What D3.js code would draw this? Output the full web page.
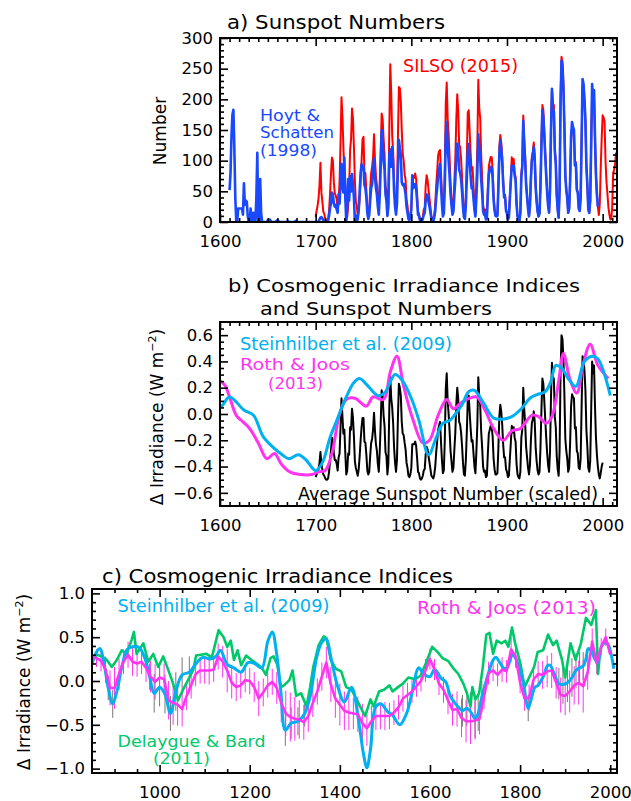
<!DOCTYPE html>
<html>
<head>
<meta charset="utf-8">
<script src="https://cdn.jsdelivr.net/npm/d3@7"></script>
<style>
  body { margin: 0; background: #fff; }
</style>
</head>
<body>
<div id="chart"></div>
<script>
// ---- DATA ----
// a) SILSO (2015) yearly sunspot number, 1700..2014
const silsoStart = 1700;
const silso = [
  8.3, 18.3, 26.7, 38.3, 60.0, 96.7, 48.3, 33.3, 16.7, 13.3,
  5.0, 0.0, 0.0, 3.3, 18.3, 45.0, 78.3, 105.0, 100.0, 65.0,
  46.7, 43.3, 36.7, 18.3, 35.0, 66.7, 130.0, 203.3, 171.7, 121.7,
  78.3, 58.3, 18.3, 8.3, 26.7, 56.7, 116.7, 135.0, 185.0, 168.3,
  121.7, 66.7, 33.3, 26.7, 8.3, 18.3, 36.7, 66.7, 100.0, 134.8,
  139.0, 79.5, 79.7, 51.2, 20.3, 16.0, 17.0, 54.0, 79.3, 90.0,
  104.8, 143.2, 102.0, 75.2, 60.7, 34.8, 19.0, 63.0, 116.3, 176.8,
  168.0, 136.0, 110.8, 58.0, 51.0, 11.7, 33.0, 154.2, 257.3, 209.8,
  141.3, 113.5, 64.2, 38.0, 17.0, 40.2, 138.2, 220.0, 218.2, 196.8,
  149.8, 111.0, 100.0, 78.2, 68.3, 35.5, 26.7, 10.7, 6.8, 11.3,
  24.2, 56.7, 75.0, 71.8, 79.2, 70.3, 46.8, 16.8, 13.5, 4.2,
  0.0, 2.3, 8.3, 20.3, 23.2, 59.0, 76.3, 68.3, 52.9, 38.5,
  24.2, 9.2, 6.3, 2.2, 11.4, 28.2, 59.9, 83.0, 108.5, 115.2,
  117.4, 80.8, 44.3, 13.4, 19.5, 85.8, 192.7, 227.3, 168.7, 143.0,
  105.5, 63.3, 40.3, 18.1, 25.1, 65.8, 102.7, 166.3, 208.3, 182.5,
  126.3, 122.0, 102.7, 74.1, 39.0, 12.7, 8.2, 43.4, 104.4, 178.3,
  182.2, 146.6, 112.1, 83.5, 89.2, 57.8, 30.7, 13.9, 62.8, 123.6,
  232.0, 185.3, 169.2, 110.1, 74.5, 28.3, 18.9, 20.7, 5.7, 10.0,
  53.7, 90.5, 99.0, 106.1, 105.8, 86.3, 42.4, 21.8, 11.2, 10.4,
  11.8, 59.5, 121.7, 142.0, 130.0, 106.6, 69.4, 43.8, 44.4, 20.2,
  15.7, 4.6, 8.5, 40.8, 70.1, 105.5, 90.1, 102.8, 80.9, 73.2,
  30.9, 9.5, 6.0, 2.4, 16.1, 79.0, 95.0, 173.6, 134.6, 105.7,
  62.7, 43.5, 23.7, 9.7, 27.9, 74.0, 106.5, 114.7, 129.7, 108.2,
  59.4, 35.1, 18.6, 9.2, 14.6, 60.2, 132.8, 190.6, 182.6, 148.0,
  113.0, 79.2, 50.8, 27.1, 16.1, 55.3, 154.3, 214.7, 193.0, 190.7,
  118.9, 98.3, 45.0, 20.1, 6.6, 54.2, 200.7, 269.3, 261.7, 225.1,
  159.0, 76.4, 53.4, 39.9, 15.0, 22.0, 66.8, 132.9, 150.0, 149.4,
  148.0, 94.4, 97.6, 54.1, 49.2, 22.5, 18.4, 39.3, 131.0, 220.1,
  218.9, 198.9, 162.4, 91.0, 60.5, 20.6, 14.8, 33.9, 123.0, 211.1,
  191.8, 203.3, 133.0, 76.1, 44.9, 25.1, 11.6, 28.9, 88.3, 136.3,
  173.9, 170.4, 163.6, 99.3, 65.3, 45.8, 24.7, 12.6, 4.2, 4.8,
  24.9, 80.8, 84.5, 94.0, 113.3
];

// a) Hoyt & Schatten (1998), 1610..1995
const hoytStart = 1610;
const hoyt = [
  52, 80, 140, 175, 183, 120, 40, 0, 0, 22,
  22, 22, 22, 22, 12, 63, 28, 35, 33, 10,
  0, 0, 22, 5, 0, 15, 0, 0, 40, 113,
  0, 0, 70, 15, 0, 0, 0, 0, 0, 0,
  3, 0, 4, 2, 0, 0, 0, 0, 0, 2,
  3, 2, 0, 0, 0, 0, 0, 0, 0, 0,
  0, 2, 0, 0, 0, 0, 0, 0, 0, 2,
  0, 0, 0, 0, 0, 0, 0, 0, 0, 0,
  0, 0, 0, 0, 0, 0, 0, 0, 0, 0,
  0, 0, 0, 1, 4, 7, 8, 6, 3, 2,
  0, 0, 0, 2, 10, 22, 30, 48, 45, 30,
  25, 28, 20, 15, 45, 30, 65, 95, 58, 48,
  105, 40, 0, 25, 70, 35, 75, 50, 78, 60,
  40, 0, 10, 0, 5, 20, 50, 80, 94, 90,
  90, 60, 55, 40, 15, 5, 12, 35, 55, 62,
  80, 104, 75, 55, 45, 25, 12, 45, 90, 150,
  140, 100, 85, 45, 35, 10, 25, 110, 118, 90,
  122, 95, 50, 25, 12, 30, 90, 134, 120, 110,
  65, 60, 62, 55, 45, 25, 15, 5, 3, 8,
  20, 76, 55, 58, 62, 55, 35, 12, 10, 3,
  0, 1, 5, 12, 15, 35, 45, 42, 33, 25,
  15, 6, 4, 1, 8, 18, 40, 55, 75, 85,
  95, 60, 30, 9, 14, 60, 140, 163, 120, 100,
  75, 45, 28, 12, 17, 45, 70, 110, 128, 115,
  85, 80, 70, 50, 25, 8, 5, 28, 70, 115,
  127, 100, 75, 55, 58, 38, 20, 9, 40, 80,
  143, 120, 105, 70, 48, 18, 12, 13, 4, 6,
  45, 78, 85, 90, 88, 72, 36, 19, 10, 9,
  10, 55, 110, 133, 120, 98, 63, 40, 40, 18,
  14, 4, 8, 38, 66, 92, 85, 92, 76, 68,
  29, 9, 6, 2, 15, 74, 90, 165, 128, 100,
  60, 41, 22, 9, 26, 70, 100, 108, 122, 102,
  56, 33, 17, 9, 14, 57, 125, 182, 172, 140,
  107, 75, 48, 26, 15, 52, 148, 217, 185, 180,
  115, 95, 44, 20, 7, 52, 195, 263, 255, 218,
  155, 75, 52, 38, 15, 22, 68, 140, 163, 155,
  150, 92, 95, 52, 48, 22, 18, 40, 135, 233,
  225, 200, 165, 92, 60, 21, 15, 35, 128, 225,
  200, 215, 138, 78, 45, 25
];

// b) Average sunspot number (scaled, W m-2), 1700..2000
const avgStart = 1700;
const avgScaled = [
  -0.48, -0.46, -0.44, -0.42, -0.37, -0.29, -0.38, -0.42, -0.46, -0.47,
  -0.49, -0.50, -0.50, -0.49, -0.44, -0.36, -0.28, -0.18, -0.20, -0.30,
  -0.35, -0.35, -0.38, -0.43, -0.33, -0.30, -0.10, 0.12, -0.02, -0.15,
  -0.12, -0.30, -0.46, -0.43, -0.30, -0.31, -0.10, -0.12, 0.04, -0.03,
  -0.17, -0.36, -0.41, -0.44, -0.47, -0.42, -0.32, -0.20, -0.10, -0.03,
  -0.03, -0.21, -0.22, -0.31, -0.43, -0.46, -0.44, -0.32, -0.22, -0.19,
  -0.12, 0.01, -0.13, -0.23, -0.28, -0.38, -0.44, -0.28, -0.07, 0.18,
  0.14, -0.01, -0.09, -0.29, -0.32, -0.46, -0.38, 0.05, 0.28, 0.12,
  0.05, -0.07, -0.26, -0.37, -0.44, -0.35, -0.03, 0.23, 0.20, 0.14,
  -0.06, -0.15, -0.16, -0.22, -0.27, -0.37, -0.41, -0.47, -0.48, -0.46,
  -0.41, -0.23, -0.23, -0.23, -0.21, -0.24, -0.33, -0.44, -0.45, -0.49,
  -0.50, -0.49, -0.47, -0.43, -0.42, -0.31, -0.25, -0.27, -0.32, -0.37,
  -0.42, -0.47, -0.48, -0.49, -0.46, -0.40, -0.29, -0.21, -0.12, -0.09,
  -0.06, -0.21, -0.35, -0.45, -0.43, -0.20, 0.19, 0.31, 0.10, 0.00,
  -0.13, -0.28, -0.36, -0.44, -0.41, -0.27, -0.14, 0.07, 0.20, 0.12,
  -0.06, -0.08, -0.14, -0.24, -0.37, -0.46, -0.47, -0.35, -0.14, 0.11,
  0.14, 0.01, -0.11, -0.21, -0.20, -0.30, -0.40, -0.45, -0.29, -0.08,
  0.28, 0.13, 0.07, -0.13, -0.25, -0.40, -0.44, -0.43, -0.48, -0.47,
  -0.30, -0.15, -0.12, -0.09, -0.10, -0.17, -0.34, -0.42, -0.46, -0.46,
  -0.45, -0.26, -0.02, 0.07, 0.02, -0.08, -0.23, -0.33, -0.33, -0.42,
  -0.44, -0.48, -0.47, -0.34, -0.22, -0.09, -0.14, -0.10, -0.18, -0.21,
  -0.38, -0.46, -0.48, -0.49, -0.44, -0.18, -0.12, 0.20, 0.04, -0.07,
  -0.25, -0.33, -0.41, -0.46, -0.39, -0.20, -0.07, -0.04, 0.02, -0.06,
  -0.26, -0.36, -0.43, -0.46, -0.44, -0.26, 0.03, 0.27, 0.23, 0.10,
  -0.04, -0.18, -0.30, -0.39, -0.44, -0.28, 0.13, 0.39, 0.28, 0.27,
  -0.02, -0.10, -0.32, -0.42, -0.47, -0.28, 0.32, 0.60, 0.57, 0.42,
  0.15, -0.19, -0.28, -0.34, -0.44, -0.41, -0.22, 0.06, 0.15, 0.13,
  0.12, -0.11, -0.10, -0.28, -0.30, -0.41, -0.42, -0.34, 0.05, 0.44,
  0.42, 0.33, 0.18, -0.12, -0.25, -0.41, -0.44, -0.36, 0.02, 0.40,
  0.31, 0.37, 0.06, -0.18, -0.31, -0.40, -0.46, -0.49, -0.45, -0.40,
  -0.37
];

// Steinhilber et al. (2009), W m-2, with uncertainty (half range, 0 = not drawn)
const steinYears = [
  850, 860, 868, 875, 886, 896, 906, 917, 928, 940,
  955, 968, 978, 988, 1000, 1012, 1024, 1036, 1050, 1066,
  1081, 1096, 1112, 1125, 1135, 1150, 1165, 1181, 1196, 1211,
  1227, 1240, 1250, 1260, 1269, 1279, 1292, 1307, 1322, 1334,
  1349, 1360, 1370, 1380, 1395, 1410, 1426, 1441, 1452, 1460,
  1468, 1479, 1491, 1506, 1517, 1533, 1548, 1560, 1575, 1586,
  1600, 1610, 1625, 1635, 1645, 1655, 1665, 1672, 1682, 1690,
  1700, 1707, 1715, 1722, 1732, 1740, 1746, 1755, 1765, 1772,
  1783, 1790, 1800, 1808, 1818, 1826, 1833, 1840, 1846, 1853,
  1860, 1866, 1875, 1886, 1895, 1905, 1915, 1924, 1932, 1940,
  1946, 1951, 1957, 1965, 1972, 1981, 1989, 1995, 2008
];
const steinIrr = [
  0.19, 0.33, 0.37, 0.25, -0.08, -0.26, -0.10, 0.18, 0.36, 0.39,
  0.38, 0.25, 0.05, -0.14, -0.07, -0.15, -0.37, -0.12, 0.07, 0.10,
  0.20, 0.27, 0.25, 0.28, 0.35, 0.19, 0.15, 0.10, 0.21, 0.20,
  0.15, 0.45, 0.56, 0.30, -0.12, -0.56, -0.48, -0.46, -0.37, -0.18,
  0.28, 0.44, 0.48, 0.27, -0.06, -0.24, -0.07, -0.43, -0.82, -0.99,
  -0.78, -0.30, -0.26, -0.35, -0.39, -0.50, -0.37, -0.14, 0.15, 0.08,
  0.05, 0.13, 0.03, -0.01, -0.17, -0.25, -0.31, -0.34, -0.31, -0.35,
  -0.43, -0.37, -0.18, -0.05, 0.13, 0.24, 0.27, 0.21, 0.14, 0.16,
  0.30, 0.26, 0.12, -0.05, -0.31, -0.18, -0.07, -0.05, 0.00, 0.07,
  0.17, 0.18, 0.09, -0.03, -0.04, -0.02, 0.04, 0.12, 0.15, 0.17,
  0.25, 0.37, 0.35, 0.26, 0.21, 0.40, 0.44, 0.42, 0.14
];
const steinErr = [
  0, 0, 0, 0, 0.14, 0.16, 0, 0, 0, 0,
  0, 0, 0.15, 0.22, 0.22, 0.22, 0.20, 0.22, 0.20, 0.18,
  0, 0, 0, 0, 0, 0, 0, 0, 0, 0,
  0, 0, 0, 0, 0, 0.18, 0.18, 0.16, 0.15, 0,
  0, 0, 0, 0, 0, 0, 0, 0, 0, 0,
  0, 0, 0, 0, 0, 0, 0, 0, 0, 0,
  0, 0, 0, 0, 0, 0, 0, 0.18, 0.20, 0.22,
  0.22, 0.20, 0.18, 0, 0, 0, 0, 0, 0, 0,
  0, 0, 0, 0, 0.15, 0, 0, 0, 0, 0,
  0, 0, 0, 0.18, 0.22, 0.22, 0.22, 0.20, 0.18, 0.16,
  0, 0, 0, 0, 0, 0, 0, 0, 0
];

// Roth & Joos (2013), smooth curve of panel b
const rothYearsB = [
  1600, 1605, 1610, 1617, 1624, 1631, 1640, 1649, 1657, 1664,
  1673, 1684, 1696, 1703, 1710, 1717, 1725, 1732, 1741, 1753,
  1760, 1771, 1778, 1785, 1792, 1802, 1812, 1819, 1828, 1837,
  1844, 1853, 1868, 1877, 1886, 1896, 1905, 1914, 1926, 1933,
  1941, 1947, 1954, 1959, 1966, 1973, 1980, 1987, 1995, 2006
];
const rothIrrB = [
  0.25, 0.22, 0.13, -0.01, -0.06, -0.11, -0.22, -0.34, -0.30, -0.38,
  -0.44, -0.46, -0.46, -0.44, -0.43, -0.30, 0.00, 0.11, 0.12, 0.06,
  0.13, 0.11, 0.32, 0.44, 0.21, -0.05, -0.22, -0.20, -0.01, 0.11,
  0.04, 0.09, 0.13, 0.03, -0.11, -0.20, -0.13, -0.11, -0.01, -0.02,
  -0.07, -0.02, 0.25, 0.46, 0.26, 0.16, 0.39, 0.53, 0.37, 0.27
];

// Roth & Joos (2013), decadal values with error bars, panel c (850..2000)
const rothStartC = 850;
const rothIrrC = [
  0.27, 0.26, 0.23, 0.13, -0.08, -0.08, 0.08, 0.22, 0.30, 0.22,
  0.20, 0.22, 0.15, 0.05, -0.01, 0.04, 0.02, -0.22, -0.25, -0.27,
  -0.32, -0.17, -0.05, 0.08, 0.12, 0.12, 0.12, 0.13, 0.28, 0.22,
  0.12, -0.02, -0.07, -0.05, 0.01, 0.00, -0.07, -0.20, -0.13, -0.05,
  -0.01, -0.08, -0.25, -0.37, -0.41, -0.43, -0.44, -0.47, -0.40, -0.25,
  -0.12, 0.05, 0.21, -0.04, -0.20, -0.27, -0.34, -0.36, -0.37, -0.38,
  -0.48, -0.54, -0.46, -0.40, -0.40, -0.40, -0.40, -0.36, -0.30, -0.20,
  -0.16, -0.12, -0.06, 0.00, 0.12, 0.25, 0.13, -0.03, -0.10, -0.22,
  -0.33, -0.32, -0.42, -0.46, -0.46, -0.45, -0.43, -0.18, 0.09, 0.12,
  0.07, 0.13, 0.11, 0.36, 0.28, -0.02, -0.20, -0.19, 0.02, 0.08,
  0.07, 0.11, 0.12, -0.02, -0.16, -0.17, -0.12, -0.05, -0.02, -0.06,
  0.10, 0.45, 0.20, 0.39, 0.50, 0.30
];
const rothErrC = [
  0.08, 0.10, 0.12, 0.15, 0.20, 0.24, 0.18, 0.14, 0.15, 0.16,
  0.15, 0.14, 0.16, 0.18, 0.20, 0.16, 0.18, 0.22, 0.25, 0.24,
  0.20, 0.16, 0.15, 0.14, 0.15, 0.15, 0.16, 0.14, 0.15, 0.18,
  0.25, 0.18, 0.16, 0.15, 0.14, 0.15, 0.17, 0.20, 0.16, 0.14,
  0.15, 0.18, 0.22, 0.26, 0.28, 0.25, 0.22, 0.20, 0.18, 0.16,
  0.15, 0.16, 0.18, 0.20, 0.22, 0.24, 0.22, 0.20, 0.18, 0.20,
  0.22, 0.20, 0.18, 0.16, 0.15, 0.16, 0.15, 0.14, 0.14, 0.15,
  0.14, 0.13, 0.12, 0.12, 0.13, 0.12, 0.12, 0.13, 0.15, 0.16,
  0.18, 0.20, 0.22, 0.24, 0.26, 0.22, 0.18, 0.14, 0.13, 0.12,
  0.13, 0.14, 0.13, 0.14, 0.13, 0.12, 0.14, 0.15, 0.14, 0.15,
  0.16, 0.18, 0.20, 0.18, 0.20, 0.22, 0.24, 0.22, 0.25, 0.30,
  0.20, 0.15, 0.12, 0.10, 0.10, 0.00
];

// Delaygue & Bard (2011)
const delaYears = [
  850, 861, 872, 883, 894, 905, 916, 927, 938, 943,
  949, 964, 975, 986, 997, 1008, 1019, 1030, 1041, 1053,
  1064, 1075, 1081, 1092, 1104, 1116, 1131, 1142, 1150, 1158,
  1165, 1173, 1181, 1192, 1204, 1215, 1227, 1236, 1246, 1253,
  1261, 1269, 1276, 1288, 1295, 1303, 1314, 1326, 1334, 1341,
  1353, 1364, 1370, 1380, 1391, 1403, 1414, 1426, 1437, 1449,
  1456, 1468, 1475, 1487, 1498, 1510, 1517, 1529, 1540, 1552,
  1567, 1579, 1590, 1605, 1617, 1628, 1640, 1651, 1663, 1674,
  1682, 1690, 1694, 1701, 1709, 1717, 1725, 1732, 1740, 1748,
  1759, 1767, 1774, 1782, 1789, 1801, 1810, 1820, 1831, 1839,
  1851, 1862, 1873, 1881, 1893, 1900, 1912, 1923, 1935, 1946,
  1958, 1968, 1973, 1977
];
const delaIrr = [
  0.24, 0.30, 0.28, 0.24, 0.16, 0.24, 0.35, 0.31, 0.47, 0.56,
  0.31, 0.43, 0.22, 0.31, 0.16, 0.28, 0.13, -0.03, -0.22, -0.09,
  0.02, 0.13, 0.29, 0.30, 0.31, 0.27, 0.58, 0.50, 0.39, 0.46,
  0.24, 0.35, 0.18, 0.29, 0.24, 0.20, 0.15, 0.07, 0.26, 0.28,
  0.19, -0.07, -0.05, 0.01, 0.12, -0.17, -0.14, -0.29, -0.07, 0.16,
  0.41, 0.51, 0.49, 0.24, 0.14, 0.11, -0.07, -0.10, -0.21, -0.33,
  -0.40, -0.21, -0.29, -0.12, -0.10, -0.05, -0.12, -0.07, -0.03, 0.04,
  0.02, 0.06, 0.19, 0.39, 0.33, 0.26, 0.23, 0.15, 0.08, -0.03,
  -0.14, -0.29, -0.07, -0.21, -0.14, 0.15, 0.53, 0.55, 0.31, 0.46,
  0.43, 0.46, 0.39, 0.61, 0.43, 0.19, -0.07, 0.04, 0.16, 0.33,
  0.35, 0.53, 0.41, 0.46, 0.24, 0.04, 0.43, 0.24, 0.43, 0.72,
  0.64, 0.81, 0.08, 0.31
];

// axis ticks
const yearTicksAB = [1600, 1700, 1800, 1900, 2000];
const numberTicks = [0, 50, 100, 150, 200, 250, 300];
const irrTicksB = [-0.6, -0.4, -0.2, 0.0, 0.2, 0.4, 0.6];
const yearTicksC = [1000, 1200, 1400, 1600, 1800, 2000];
const irrTicksC = [-1.0, -0.5, 0.0, 0.5, 1.0];

// ---- COLOURS ----
const RED = "#ff0000";
const BLUE = "#1848ff";
const CYAN = "#00b0f0";
const MAGENTA = "#ff33f0";
const GREEN = "#00c86a";
const FONT = '"DejaVu Sans", sans-serif';

const svg = d3.select("#chart").append("svg")
  .attr("width", 631)
  .attr("height", 801)
  .style("font-family", FONT);

// ---- HELPERS ----
function addAxes(g, x, y, xMajor, xMinor, yMajor, yMinor, yFmt) {
  const [xl, xr] = x.range();
  const [yb, yt] = y.range();
  const put = (axis, tx, ty) =>
    g.append("g").attr("transform", `translate(${tx},${ty})`).call(axis);

  put(d3.axisBottom(x).tickValues(xMinor).tickSize(-4).tickFormat(""), 0, yb);
  put(d3.axisTop(x).tickValues(xMinor).tickSize(-4).tickFormat(""), 0, yt);
  put(d3.axisLeft(y).tickValues(yMinor).tickSize(-4).tickFormat(""), xl, 0);
  put(d3.axisRight(y).tickValues(yMinor).tickSize(-4).tickFormat(""), xr, 0);

  put(d3.axisBottom(x).tickValues(xMajor).tickSize(-8).tickPadding(13)
    .tickFormat(d3.format("d")), 0, yb);
  put(d3.axisTop(x).tickValues(xMajor).tickSize(-8).tickFormat(""), 0, yt);
  put(d3.axisLeft(y).tickValues(yMajor).tickSize(-8).tickPadding(7)
    .tickFormat(yFmt), xl, 0);
  put(d3.axisRight(y).tickValues(yMajor).tickSize(-8).tickFormat(""), xr, 0);

  g.selectAll(".domain").remove();
  g.selectAll(".tick line").attr("stroke", "#000").attr("stroke-width", 1.6);
  g.selectAll(".tick text")
    .attr("font-family", FONT)
    .attr("font-size", 16.5)
    .attr("fill", "#000");

  g.append("rect")
    .attr("x", xl).attr("y", yt)
    .attr("width", xr - xl).attr("height", yb - yt)
    .attr("fill", "none").attr("stroke", "#000").attr("stroke-width", 2);
}

function addText(x, y, str, size, color, len) {
  const t = svg.append("text")
    .attr("x", x).attr("y", y)
    .attr("font-size", size)
    .attr("fill", color)
    .text(str);
  if (len) t.attr("textLength", len).attr("lengthAdjust", "spacingAndGlyphs");
  return t;
}

function irrLabel(cx, cy) {
  const t = svg.append("text")
    .attr("transform", `translate(${cx},${cy}) rotate(-90)`)
    .attr("text-anchor", "middle")
    .attr("y", 6)
    .attr("font-size", 17)
    .attr("fill", "#000");
  t.append("tspan").text("\u0394 Irradiance (W m");
  t.append("tspan").attr("dy", -7).attr("font-size", 11).text("\u22122");
  t.append("tspan").attr("dy", 7).text(")");
}

function clip(id, x, y) {
  const [xl, xr] = x.range();
  const [yb, yt] = y.range();
  svg.append("clipPath").attr("id", id)
    .append("rect").attr("x", xl).attr("y", yt)
    .attr("width", xr - xl).attr("height", yb - yt);
  return svg.append("g").attr("clip-path", `url(#${id})`);
}

// ---- PANEL A ----
const xA = d3.scaleLinear().domain([1600, 2015]).range([220, 617]);
const yA = d3.scaleLinear().domain([0, 300]).range([222, 38]);
const lineA = d3.line().x((d) => xA(d[0])).y((d) => yA(d[1]));

const plotA = clip("clipA", xA, yA);
plotA.append("path")
  .datum(silso.map((v, i) => [silsoStart + i, v]))
  .attr("d", lineA).attr("fill", "none")
  .attr("stroke", RED).attr("stroke-width", 2).attr("stroke-linejoin", "round");
plotA.append("path")
  .datum(hoyt.map((v, i) => [hoytStart + i, v]))
  .attr("d", lineA).attr("fill", "none")
  .attr("stroke", BLUE).attr("stroke-width", 2.6).attr("stroke-linejoin", "round");

addAxes(svg.append("g"), xA, yA,
  yearTicksAB, d3.range(1610, 2015, 10).filter((d) => d % 100 !== 0),
  numberTicks, d3.range(10, 300, 10).filter((d) => d % 50 !== 0),
  d3.format("d"));

addText(227, 29.3, "a) Sunspot Numbers", 20, "#000", 218);
addText(403, 71.7, "SILSO (2015)", 17, RED, 115);
addText(260, 121, "Hoyt &", 15, BLUE, 60);
addText(260, 138.4, "Schatten", 15, BLUE, 74);
addText(260, 155.8, "(1998)", 15, BLUE, 57);
svg.append("text")
  .attr("transform", "translate(160,131) rotate(-90)")
  .attr("text-anchor", "middle").attr("y", 6)
  .attr("font-size", 17).attr("fill", "#000")
  .text("Number");

// ---- PANEL B ----
const xB = d3.scaleLinear().domain([1600, 2015]).range([220, 617]);
const yB = d3.scaleLinear().domain([-0.7, 0.7]).range([506, 322]);
const smoothB = d3.line().x((d) => xB(d[0])).y((d) => yB(d[1]))
  .curve(d3.curveCatmullRom.alpha(0.5));
const lineB = d3.line().x((d) => xB(d[0])).y((d) => yB(d[1]));

const plotB = clip("clipB", xB, yB);
plotB.append("path")
  .datum(avgScaled.map((v, i) => [avgStart + i, v]))
  .attr("d", lineB).attr("fill", "none")
  .attr("stroke", "#000").attr("stroke-width", 2).attr("stroke-linejoin", "round");
plotB.append("path")
  .datum(rothYearsB.map((yr, i) => [yr, rothIrrB[i]]))
  .attr("d", smoothB).attr("fill", "none")
  .attr("stroke", MAGENTA).attr("stroke-width", 3);
plotB.append("path")
  .datum(steinYears.map((yr, i) => [yr, steinIrr[i]]))
  .attr("d", smoothB).attr("fill", "none")
  .attr("stroke", CYAN).attr("stroke-width", 3);

addAxes(svg.append("g"), xB, yB,
  yearTicksAB, d3.range(1610, 2015, 10).filter((d) => d % 100 !== 0),
  irrTicksB, d3.range(-13, 14).filter((k) => k % 4 !== 0).map((k) => k * 0.05),
  d3.format(".1f"));

addText(228, 292.3, "b) Cosmogenic Irradiance Indices", 18.5, "#000", 352);
addText(260, 314.7, "and Sunspot Numbers", 18.5, "#000", 232);
addText(240, 350, "Steinhilber et al. (2009)", 17, CYAN, 212);
addText(240, 369.5, "Roth & Joos", 16.5, MAGENTA, 110);
addText(268, 389, "(2013)", 16.5, MAGENTA, 55);
addText(298, 500, "Average Sunspot Number (scaled)", 17, "#000", 300);
irrLabel(157, 417);

// ---- PANEL C ----
const xC = d3.scaleLinear().domain([850, 2015]).range([92, 617]);
const yC = d3.scaleLinear().domain([-1.05, 1.05]).range([773, 589]);
const lineC = d3.line().x((d) => xC(d[0])).y((d) => yC(d[1]));
const smoothC = d3.line().x((d) => xC(d[0])).y((d) => yC(d[1]))
  .curve(d3.curveCatmullRom.alpha(0.5));

const plotC = clip("clipC", xC, yC);
const steinC = steinYears.map((yr, i) => [yr, steinIrr[i], steinErr[i]]);
const rothC = rothIrrC.map((v, i) => [rothStartC + i * 10, v, rothErrC[i]]);

// uncertainty bars (grey: Steinhilber, magenta: Roth & Joos)
plotC.append("g").selectAll("line")
  .data(steinC.filter((d) => d[2] > 0))
  .join("line")
  .attr("x1", (d) => xC(d[0])).attr("x2", (d) => xC(d[0]))
  .attr("y1", (d) => yC(d[1] - d[2])).attr("y2", (d) => yC(d[1] + d[2]))
  .attr("stroke", "#777").attr("stroke-width", 1);
plotC.append("g").selectAll("line")
  .data(rothC.filter((d) => d[2] > 0))
  .join("line")
  .attr("x1", (d) => xC(d[0])).attr("x2", (d) => xC(d[0]))
  .attr("y1", (d) => yC(d[1] - d[2])).attr("y2", (d) => yC(d[1] + d[2]))
  .attr("stroke", MAGENTA).attr("stroke-width", 1);

plotC.append("path")
  .datum(delaYears.map((yr, i) => [yr, delaIrr[i]]))
  .attr("d", lineC).attr("fill", "none")
  .attr("stroke", GREEN).attr("stroke-width", 2.6).attr("stroke-linejoin", "round");
plotC.append("path")
  .datum(steinC)
  .attr("d", smoothC).attr("fill", "none")
  .attr("stroke", CYAN).attr("stroke-width", 3);
plotC.append("path")
  .datum(rothC)
  .attr("d", lineC).attr("fill", "none")
  .attr("stroke", MAGENTA).attr("stroke-width", 2.6).attr("stroke-linejoin", "round");

addAxes(svg.append("g"), xC, yC,
  yearTicksC, d3.range(900, 2015, 50).filter((d) => d % 200 !== 0),
  irrTicksC, d3.range(-10, 11).filter((k) => k % 5 !== 0).map((k) => k * 0.1),
  d3.format(".1f"));

addText(102, 582.5, "c) Cosmogenic Irradiance Indices", 20, "#000", 351);
addText(117.5, 612, "Steinhilber et al. (2009)", 17, CYAN, 212);
addText(417, 614, "Roth & Joos (2013)", 17, MAGENTA, 179);
addText(117.5, 746.5, "Delaygue & Bard", 15, GREEN, 148);
addText(153, 764, "(2011)", 15, GREEN, 57);
irrLabel(24, 682);
</script>
</body>
</html>
